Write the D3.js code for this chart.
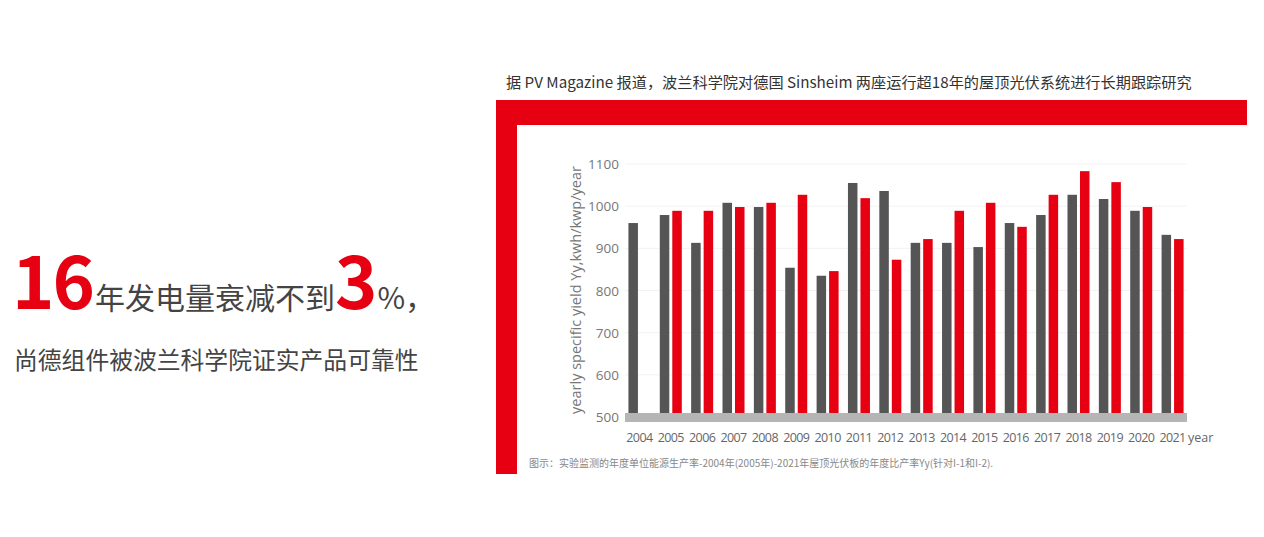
<!DOCTYPE html>
<html><head><meta charset="utf-8">
<script src="https://cdn.jsdelivr.net/npm/d3@7"></script>
<style>body{margin:0;background:#fff;font-family:"Noto Sans CJK SC","Open Sans",sans-serif;}</style>
</head><body>
<svg id="c" width="1264" height="537"></svg>
<script>
const years = ["2004","2005","2006","2007","2008","2009","2010","2011","2012","2013","2014","2015","2016","2017","2018","2019","2020","2021"];
const seriesGray = [960,979,913,1008,998,854,835,1055,1036,913,913,903,960,979,1027,1017,989,932];
const seriesRed = [null,989,989,998,1008,1027,846,1019,873,922,989,1008,951,1027,1083,1057,998,922];
const yTicks = [500,600,700,800,900,1000,1100];

const svg = d3.select("#c");
const F = '"Noto Sans CJK SC","Open Sans",sans-serif';

const t1 = svg.append("text").attr("x",12).attr("y",309).attr("font-family",F);
t1.append("tspan").text("16").attr("fill","#e60012").attr("font-size",72).attr("font-weight","bold").attr("letter-spacing",-2);
t1.append("tspan").text("年发电量衰减不到").attr("fill","#444").attr("font-size",30).attr("dx",2);
t1.append("tspan").text("3").attr("fill","#e60012").attr("font-size",72).attr("font-weight","bold");
t1.append("tspan").text("%，").attr("fill","#444").attr("font-size",30);
svg.append("text").attr("x",14).attr("y",369).attr("font-family",F).attr("font-size",23.8).attr("fill","#444")
  .text("尚德组件被波兰科学院证实产品可靠性");

svg.append("text").attr("x",506).attr("y",88).attr("font-family",F).attr("font-size",15.2).attr("fill","#333")
  .text("据 PV Magazine 报道，波兰科学院对德国 Sinsheim 两座运行超18年的屋顶光伏系统进行长期跟踪研究");

svg.append("rect").attr("x",496).attr("y",100).attr("width",751).attr("height",25).attr("fill","#e60012");
svg.append("rect").attr("x",496).attr("y",100).attr("width",21).attr("height",374).attr("fill","#e60012");

const x = d3.scaleBand().domain(years).range([625,1187]).paddingInner(0.12).paddingOuter(0.02);
const y = d3.scaleLinear().domain([500,1100]).range([417,164]);

const g = svg.append("g");
g.selectAll(".grid").data(yTicks.slice(1)).join("line")
  .attr("x1",625).attr("x2",1187).attr("y1",d=>y(d)).attr("y2",d=>y(d)).attr("stroke","#f2f2f2");
g.selectAll(".yl").data(yTicks).join("text").attr("x",619).attr("y",d=>y(d)+5).attr("text-anchor","end")
  .attr("font-family","Open Sans").attr("font-size",13.5).attr("fill","#777").text(d=>d);

const bw = 9.5;
g.selectAll(".bg").data(years).join("rect")
  .attr("x",d=>x(d)+x.bandwidth()/2-bw-1.5).attr("width",bw)
  .attr("y",(d,i)=>y(seriesGray[i])).attr("height",(d,i)=>y(500)-y(seriesGray[i])).attr("fill","#555");
g.selectAll(".br").data(years.filter((d,i)=>seriesRed[i]!=null)).join("rect")
  .attr("x",d=>x(d)+x.bandwidth()/2+1.5).attr("width",bw)
  .attr("y",d=>y(seriesRed[years.indexOf(d)])).attr("height",d=>y(500)-y(seriesRed[years.indexOf(d)])).attr("fill","#e60012");

g.append("rect").attr("x",625).attr("y",y(500)-4).attr("width",562).attr("height",9).attr("fill","#b5b5b5");

g.selectAll(".xl").data(years).join("text").attr("x",d=>x(d)+x.bandwidth()/2).attr("y",442)
  .attr("text-anchor","middle").attr("font-family","Open Sans").attr("font-size",12.5).attr("letter-spacing",-0.6)
  .attr("fill","#666").text(d=>d);
g.append("text").attr("x",1188).attr("y",442).attr("font-family","Open Sans").attr("font-size",12.5).attr("fill","#666").text("year");

svg.append("text").attr("transform","translate(581,290) rotate(-90)").attr("text-anchor","middle")
  .attr("font-family","Open Sans").attr("font-size",14.5).attr("fill","#777").text("yearly specific yield Yy,kwh/kwp/year");

svg.append("text").attr("x",529).attr("y",467).attr("font-family",F).attr("font-size",10).attr("fill","#888")
  .text("图示：实验监测的年度单位能源生产率-2004年(2005年)-2021年屋顶光伏板的年度比产率Yy(针对I-1和I-2).");
</script>
</body></html>
